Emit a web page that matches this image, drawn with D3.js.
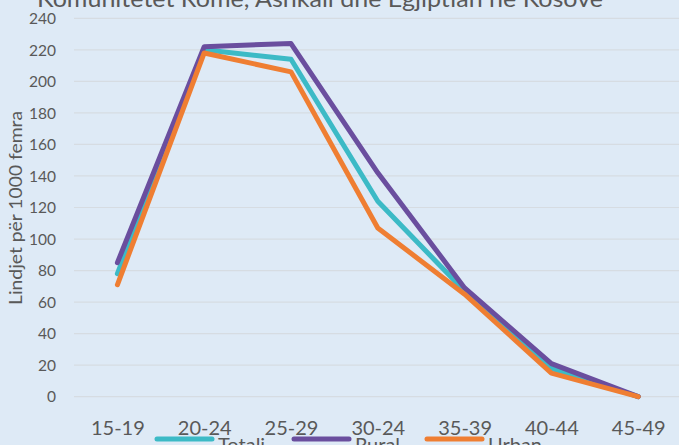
<!DOCTYPE html>
<html>
<head>
<meta charset="utf-8">
<script src="https://cdn.jsdelivr.net/npm/d3@7"></script>
<style>
  html, body { margin: 0; padding: 0; background: #DEEAF6; overflow: hidden; }
  svg { display: block; }
</style>
</head>
<body>
<div id="chart"></div>
<script>
const categories = ["15-19", "20-24", "25-29", "30-24", "35-39", "40-44", "45-49"];
const totali = [78, 220, 214, 124, 67, 18, 0];
const rural  = [85, 222, 224, 142, 69, 21, 0];
const urban  = [71, 218, 206, 107, 65, 15, 0];
const yTicks = [0, 20, 40, 60, 80, 100, 120, 140, 160, 180, 200, 220, 240];
const seriesNames = ["Totali", "Rural", "Urban"];
const seriesColors = ["#3CBAC6", "#6A4E9E", "#EF7E32"];
const titleText = "Komunitetet Romë, Ashkali dhe Egjiptian në Kosovë";
const yAxisTitle = "Lindjet për 1000 femra";

const W = 679, H = 445;
const FONT = "Lato, 'Noto Sans', sans-serif";
const TXT = "#595959";

const svg = d3.select("#chart").append("svg")
  .attr("width", W).attr("height", H);

svg.append("rect").attr("width", W).attr("height", H).attr("fill", "#DEEAF6");

const x = d3.scalePoint().domain(categories).range([74, 681.6]).padding(0.5);
const y = d3.scaleLinear().domain([0, 240]).range([396.7, 18.3]);

// gridlines
svg.append("g").selectAll("line").data(yTicks).join("line")
  .attr("x1", 74).attr("x2", 681.6)
  .attr("y1", d => y(d)).attr("y2", d => y(d))
  .attr("stroke", "#D6DCE2").attr("stroke-width", 1.2);

// y axis labels
const yAxis = d3.axisLeft(y).tickValues(yTicks).tickSize(0).tickPadding(0);
const gy = svg.append("g").attr("transform", "translate(56,0)").call(yAxis);
gy.select(".domain").remove();
gy.selectAll("text").attr("font-family", FONT).attr("font-size", 15.5)
  .attr("fill", TXT).attr("dy", "0.34em");

// x axis labels
const xAxis = d3.axisBottom(x).tickSize(0).tickPadding(0);
const gx = svg.append("g").attr("transform", "translate(0,435)").call(xAxis);
gx.select(".domain").remove();
gx.selectAll("text").attr("font-family", FONT).attr("font-size", 20)
  .attr("fill", TXT).attr("dy", 0);

// y axis title
svg.append("text")
  .attr("transform", "translate(22,208) rotate(-90)")
  .attr("text-anchor", "middle")
  .attr("font-family", FONT).attr("font-size", 18).attr("fill", TXT)
  .attr("textLength", 194).attr("lengthAdjust", "spacingAndGlyphs")
  .text(yAxisTitle);

// title (cut off at top)
svg.append("text")
  .attr("x", 320).attr("y", 7)
  .attr("text-anchor", "middle")
  .attr("font-family", FONT).attr("font-size", 23).attr("fill", TXT)
  .attr("textLength", 566).attr("lengthAdjust", "spacingAndGlyphs")
  .text(titleText);

// lines
const allSeries = [totali, rural, urban];
const line = d3.line().x((d, i) => x(categories[i])).y(d => y(d));
svg.append("g").selectAll("path").data(allSeries).join("path")
  .attr("d", d => line(d))
  .attr("fill", "none")
  .attr("stroke", (d, i) => seriesColors[i])
  .attr("stroke-width", 5)
  .attr("stroke-linejoin", "round")
  .attr("stroke-linecap", "round");

// legend
const legendX = [157, 294, 427];
const lg = svg.append("g").selectAll("g").data(seriesNames).join("g")
  .attr("transform", (d, i) => `translate(${legendX[i]},439)`);
lg.append("line").attr("x1", 0).attr("x2", 55).attr("y1", 0).attr("y2", 0)
  .attr("stroke", (d, i) => seriesColors[i]).attr("stroke-width", 5)
  .attr("stroke-linecap", "round");
lg.append("text").attr("x", 61).attr("y", 13)
  .attr("font-family", FONT).attr("font-size", 20).attr("fill", TXT)
  .text(d => d);
</script>
</body>
</html>
